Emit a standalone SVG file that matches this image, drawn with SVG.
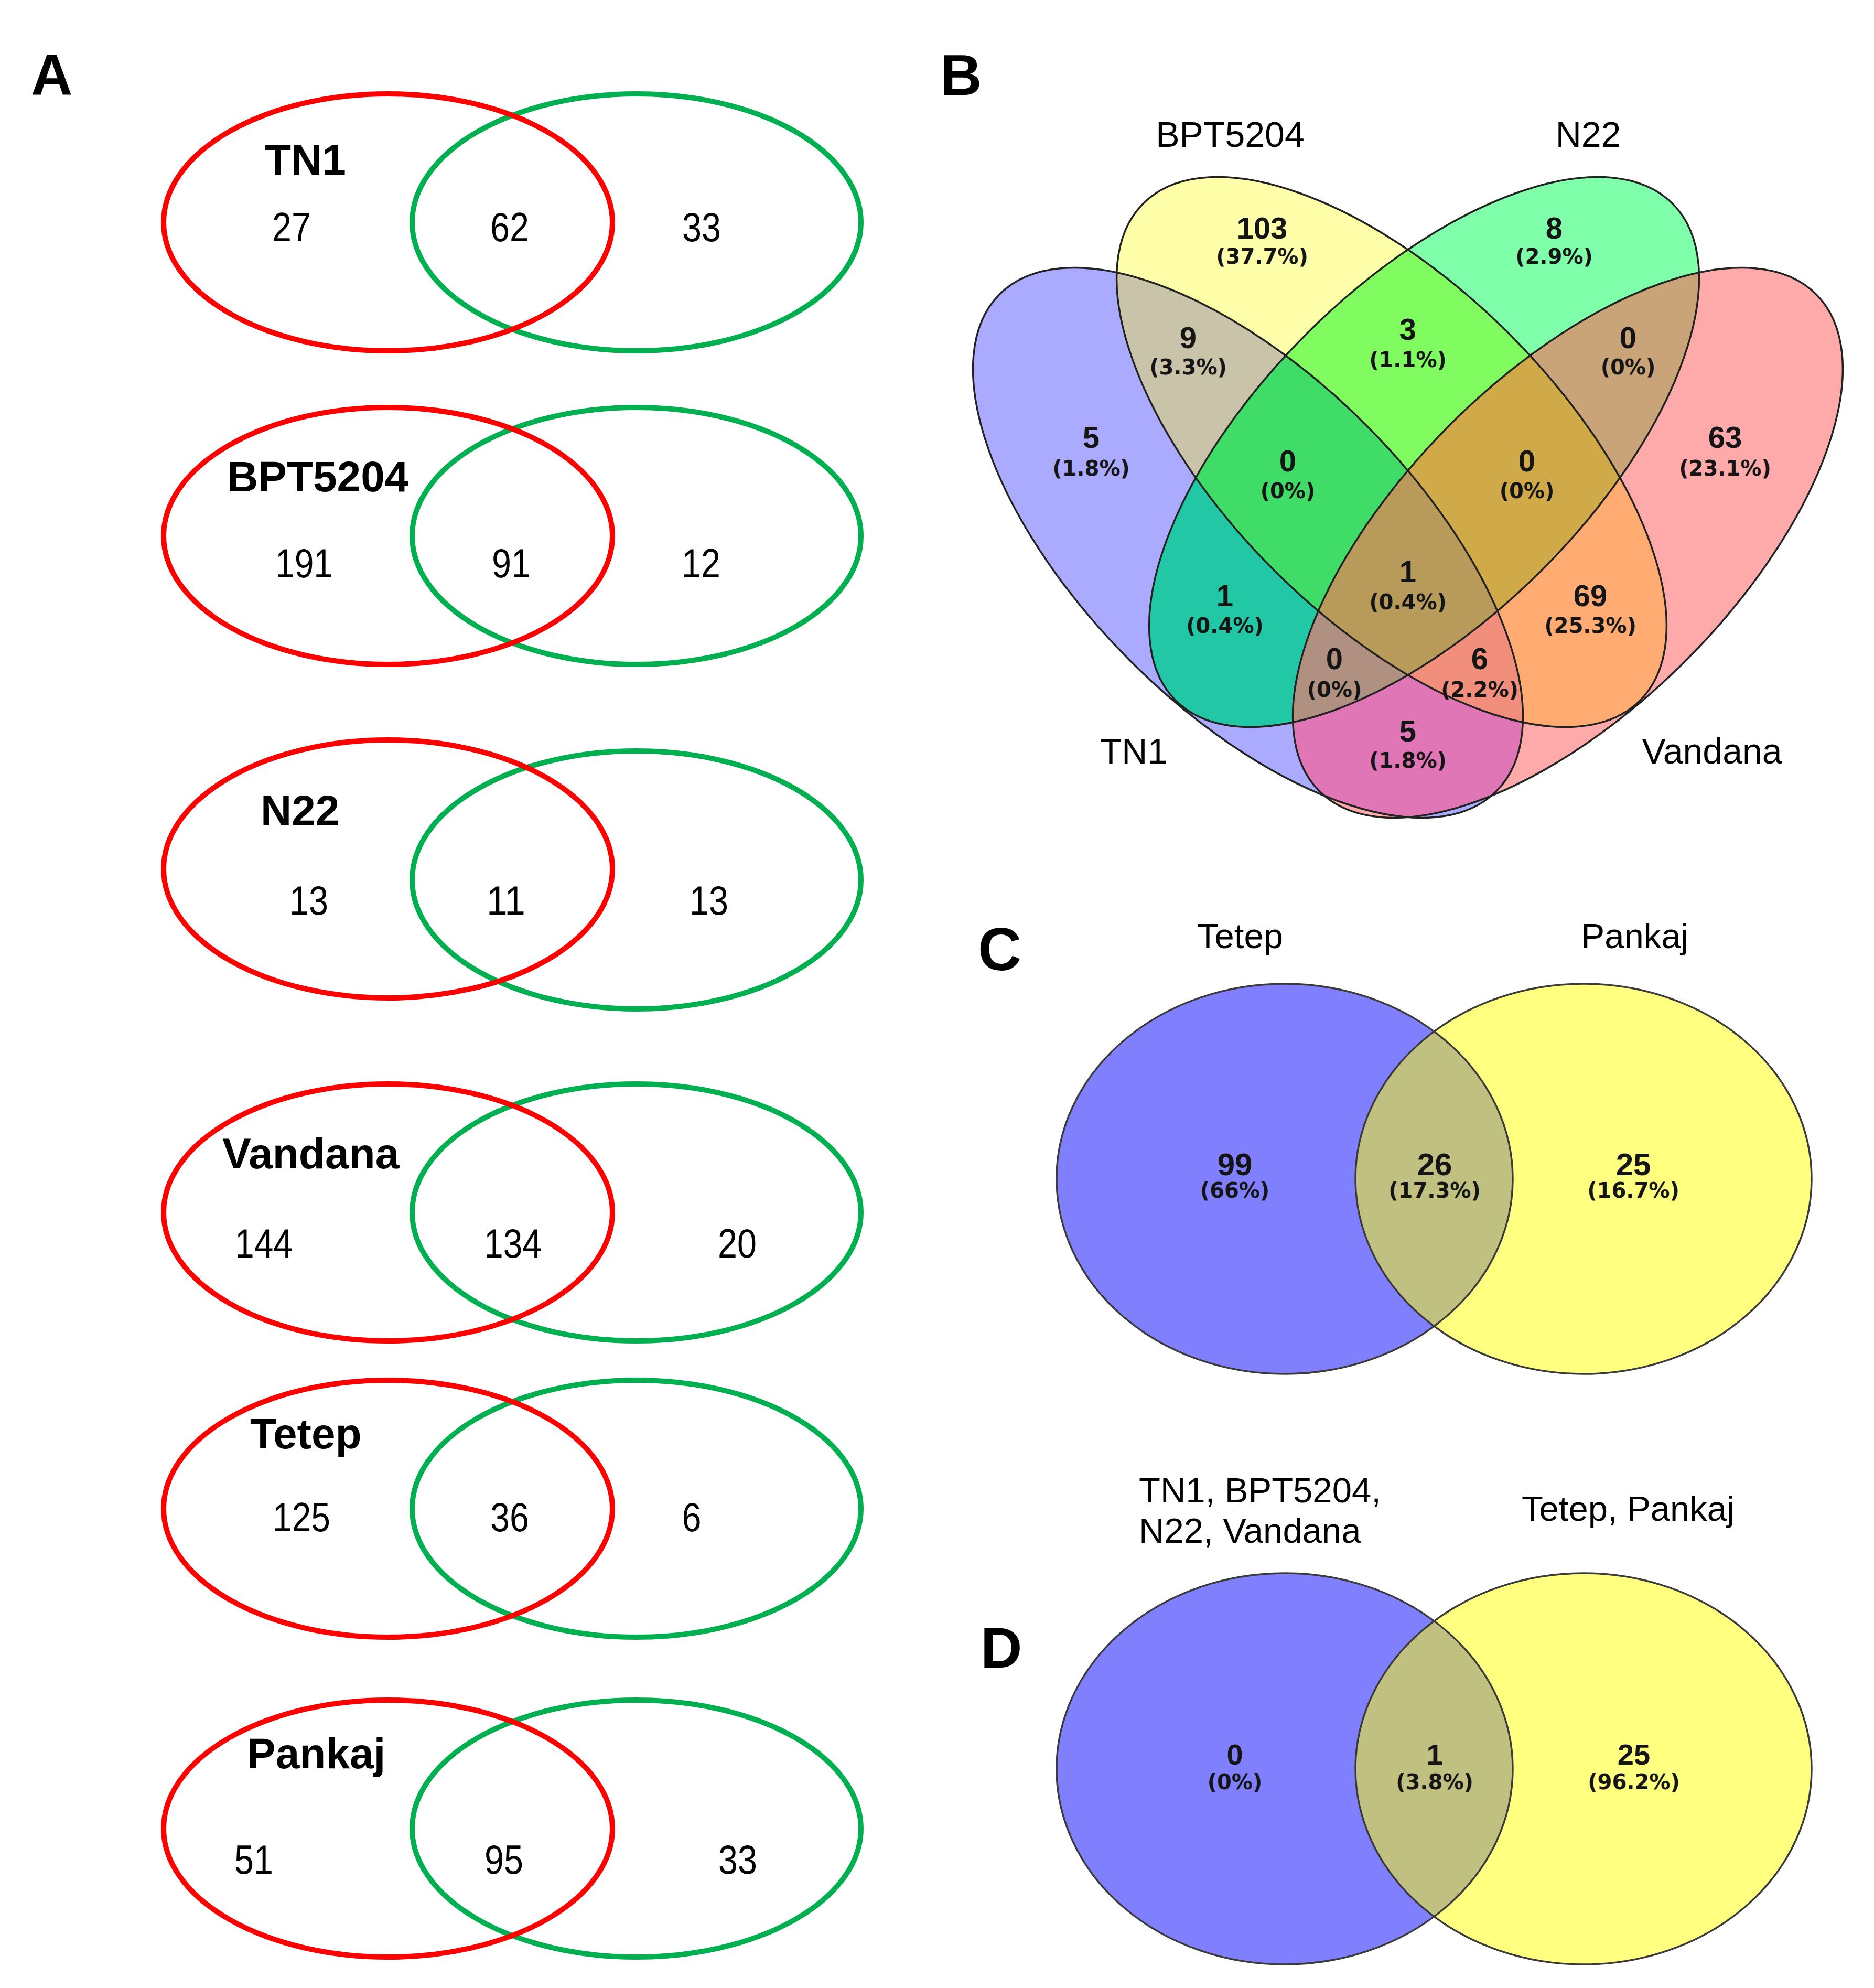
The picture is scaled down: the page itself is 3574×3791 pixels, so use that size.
<svg xmlns="http://www.w3.org/2000/svg" width="3574" height="3791" viewBox="0 0 3574 3791">
<style>
.pl{font-family:"Liberation Sans",Arial,sans-serif;font-weight:bold;font-size:110px;fill:#000}
.lab{font-family:"Liberation Sans",Arial,sans-serif;font-weight:bold;font-size:82px;fill:#000}
.num{font-family:"Liberation Sans",Arial,sans-serif;font-size:78px;fill:#000;text-anchor:middle}
.red{fill:none;stroke:#ff0000;stroke-width:10}
.grn{fill:none;stroke:#00b050;stroke-width:10}
.sl{font-family:"Liberation Sans",Arial,sans-serif;font-size:68px;fill:#000;text-anchor:middle}
.sll{font-family:"Liberation Sans",Arial,sans-serif;font-size:67px;fill:#000}
.bn{font-family:"Liberation Sans",Arial,sans-serif;font-weight:bold;font-size:58px;fill:#151515;text-anchor:middle}
.bp{font-family:"DejaVu Sans",Verdana,sans-serif;font-weight:bold;font-size:40px;fill:#151515;text-anchor:middle}
.cn{font-family:"Liberation Sans",Arial,sans-serif;font-weight:bold;font-size:60px;fill:#151515;text-anchor:middle}
.ol{fill:none;stroke:#222;stroke-width:3.5}
.ol2{fill:none;stroke:#3a3a3a;stroke-width:3.5}
</style>
<defs>
<ellipse id="eA" cx="2380" cy="1035" rx="670" ry="318" transform="rotate(45 2380 1035)"/>
<ellipse id="eB" cx="2654" cy="862" rx="670" ry="318" transform="rotate(45 2654 862)"/>
<ellipse id="eC" cx="2716" cy="862" rx="670" ry="318" transform="rotate(-45 2716 862)"/>
<ellipse id="eD" cx="2990" cy="1035" rx="670" ry="318" transform="rotate(-45 2990 1035)"/>
<clipPath id="cA"><use href="#eA"/></clipPath>
<clipPath id="cB"><use href="#eB"/></clipPath>
<clipPath id="cC"><use href="#eC"/></clipPath>
<ellipse id="eC1" cx="2450" cy="2248" rx="435" ry="372"/>
<ellipse id="eC2" cx="3020" cy="2248" rx="435" ry="372"/>
<clipPath id="cC1"><use href="#eC1"/></clipPath>
<ellipse id="eD1" cx="2450" cy="3373" rx="435" ry="373"/>
<ellipse id="eD2" cx="3020" cy="3373" rx="435" ry="373"/>
<clipPath id="cD1"><use href="#eD1"/></clipPath>
</defs>
<rect width="3574" height="3791" fill="#fff"/>

<!-- Panel letters -->
<text class="pl" x="59" y="180">A</text>
<text class="pl" x="1793" y="181">B</text>
<text class="pl" x="1865" y="1850" style="font-size:115px">C</text>
<text class="pl" x="1870" y="3180">D</text>

<!-- Panel A -->
<g id="a-tn1">
<ellipse class="grn" cx="1214" cy="424" rx="428" ry="245"/>
<ellipse class="red" cx="740" cy="424" rx="428" ry="245"/>
<text class="lab" x="505" y="333">TN1</text>
<text class="num" x="556" y="460" textLength="74" lengthAdjust="spacingAndGlyphs">27</text>
<text class="num" x="972" y="460" textLength="74" lengthAdjust="spacingAndGlyphs">62</text>
<text class="num" x="1338" y="460" textLength="74" lengthAdjust="spacingAndGlyphs">33</text>
</g>
<g id="a-bpt5204">
<ellipse class="grn" cx="1214" cy="1022" rx="428" ry="245"/>
<ellipse class="red" cx="740" cy="1022" rx="428" ry="245"/>
<text class="lab" x="433" y="937">BPT5204</text>
<text class="num" x="580" y="1101" textLength="110" lengthAdjust="spacingAndGlyphs">191</text>
<text class="num" x="975" y="1101" textLength="74" lengthAdjust="spacingAndGlyphs">91</text>
<text class="num" x="1337" y="1101" textLength="74" lengthAdjust="spacingAndGlyphs">12</text>
</g>
<g id="a-n22">
<ellipse class="grn" cx="1214" cy="1678" rx="428" ry="246"/>
<ellipse class="red" cx="740" cy="1657" rx="428" ry="246"/>
<text class="lab" x="497" y="1574">N22</text>
<text class="num" x="589" y="1744" textLength="74" lengthAdjust="spacingAndGlyphs">13</text>
<text class="num" x="965" y="1744" textLength="74" lengthAdjust="spacingAndGlyphs">11</text>
<text class="num" x="1352" y="1744" textLength="74" lengthAdjust="spacingAndGlyphs">13</text>
</g>
<g id="a-vandana">
<ellipse class="grn" cx="1214" cy="2312" rx="428" ry="245"/>
<ellipse class="red" cx="740" cy="2312" rx="428" ry="245"/>
<text class="lab" x="424" y="2228">Vandana</text>
<text class="num" x="503" y="2398" textLength="110" lengthAdjust="spacingAndGlyphs">144</text>
<text class="num" x="978" y="2398" textLength="110" lengthAdjust="spacingAndGlyphs">134</text>
<text class="num" x="1406" y="2398" textLength="74" lengthAdjust="spacingAndGlyphs">20</text>
</g>
<g id="a-tetep">
<ellipse class="grn" cx="1214" cy="2877" rx="428" ry="245"/>
<ellipse class="red" cx="740" cy="2877" rx="428" ry="245"/>
<text class="lab" x="477" y="2762">Tetep</text>
<text class="num" x="575" y="2920" textLength="110" lengthAdjust="spacingAndGlyphs">125</text>
<text class="num" x="972" y="2920" textLength="74" lengthAdjust="spacingAndGlyphs">36</text>
<text class="num" x="1319" y="2920" textLength="37" lengthAdjust="spacingAndGlyphs">6</text>
</g>
<g id="a-pankaj">
<ellipse class="grn" cx="1214" cy="3487" rx="428" ry="245"/>
<ellipse class="red" cx="740" cy="3487" rx="428" ry="245"/>
<text class="lab" x="471" y="3372">Pankaj</text>
<text class="num" x="484" y="3573" textLength="74" lengthAdjust="spacingAndGlyphs">51</text>
<text class="num" x="961" y="3573" textLength="74" lengthAdjust="spacingAndGlyphs">95</text>
<text class="num" x="1407" y="3573" textLength="74" lengthAdjust="spacingAndGlyphs">33</text>
</g>

<!-- Panel B -->
<g id="b-fills">
<use href="#eA" fill="#aaaaff"/>
<use href="#eB" fill="#ffffaa"/>
<use href="#eC" fill="#80ffaa"/>
<use href="#eD" fill="#ffaaaa"/>
<g clip-path="url(#cA)"><use href="#eB" fill="#c9c3a9"/></g>
<g clip-path="url(#cA)"><use href="#eC" fill="#22c8a6"/></g>
<g clip-path="url(#cA)"><use href="#eD" fill="#e076b6"/></g>
<g clip-path="url(#cB)"><use href="#eC" fill="#80fc60"/></g>
<g clip-path="url(#cB)"><use href="#eD" fill="#ffab72"/></g>
<g clip-path="url(#cC)"><use href="#eD" fill="#c8a478"/></g>
<g clip-path="url(#cA)"><g clip-path="url(#cB)"><use href="#eC" fill="#40dc68"/></g></g>
<g clip-path="url(#cA)"><g clip-path="url(#cB)"><use href="#eD" fill="#f28e7c"/></g></g>
<g clip-path="url(#cA)"><g clip-path="url(#cC)"><use href="#eD" fill="#b09080"/></g></g>
<g clip-path="url(#cB)"><g clip-path="url(#cC)"><use href="#eD" fill="#d0aa48"/></g></g>
<g clip-path="url(#cA)"><g clip-path="url(#cB)"><g clip-path="url(#cC)"><use href="#eD" fill="#b89a5a"/></g></g></g>
</g>
<g id="b-outlines">
<use href="#eA" class="ol"/>
<use href="#eB" class="ol"/>
<use href="#eC" class="ol"/>
<use href="#eD" class="ol"/>
</g>
<g id="b-labels">
<text class="sl" x="2346" y="280">BPT5204</text>
<text class="sl" x="3029" y="280">N22</text>
<text class="sl" x="2162" y="1456">TN1</text>
<text class="sl" x="3265" y="1456">Vandana</text>
</g>
<g id="b-counts">
<text class="bn" x="2407" y="455">103</text><text class="bp" x="2407" y="503">(37.7%)</text>
<text class="bn" x="2964" y="455">8</text><text class="bp" x="2964" y="503">(2.9%)</text>
<text class="bn" x="2266" y="664">9</text><text class="bp" x="2266" y="714">(3.3%)</text>
<text class="bn" x="2685" y="648">3</text><text class="bp" x="2685" y="700">(1.1%)</text>
<text class="bn" x="3105" y="664">0</text><text class="bp" x="3105" y="714">(0%)</text>
<text class="bn" x="2081" y="854">5</text><text class="bp" x="2081" y="907">(1.8%)</text>
<text class="bn" x="3290" y="854">63</text><text class="bp" x="3290" y="907">(23.1%)</text>
<text class="bn" x="2456" y="899">0</text><text class="bp" x="2456" y="950">(0%)</text>
<text class="bn" x="2912" y="899">0</text><text class="bp" x="2912" y="950">(0%)</text>
<text class="bn" x="2336" y="1156">1</text><text class="bp" x="2336" y="1207">(0.4%)</text>
<text class="bn" x="2685" y="1110">1</text><text class="bp" x="2685" y="1162">(0.4%)</text>
<text class="bn" x="3033" y="1156">69</text><text class="bp" x="3033" y="1207">(25.3%)</text>
<text class="bn" x="2545" y="1276">0</text><text class="bp" x="2545" y="1329">(0%)</text>
<text class="bn" x="2822" y="1276">6</text><text class="bp" x="2822" y="1329">(2.2%)</text>
<text class="bn" x="2685" y="1414">5</text><text class="bp" x="2685" y="1464">(1.8%)</text>
</g>

<!-- Panel C -->
<g id="c-tetep">
<use href="#eC1" fill="#8080ff"/>
</g>
<g id="c-pankaj">
<use href="#eC2" fill="#ffff80"/>
</g>
<g id="c-overlap" clip-path="url(#cC1)"><use href="#eC2" fill="#c0c080"/></g>
<g id="c-outlines">
<use href="#eC1" class="ol2"/>
<use href="#eC2" class="ol2"/>
</g>
<g id="c-text">
<text class="sll" x="2365" y="1808" text-anchor="middle">Tetep</text>
<text class="sll" x="3118" y="1808" text-anchor="middle">Pankaj</text>
<text class="cn" x="2355" y="2241">99</text><text class="bp" x="2355" y="2284">(66%)</text>
<text class="cn" x="2736" y="2241">26</text><text class="bp" x="2736" y="2284">(17.3%)</text>
<text class="cn" x="3115" y="2241">25</text><text class="bp" x="3115" y="2284">(16.7%)</text>
</g>

<!-- Panel D -->
<g id="d-group1">
<use href="#eD1" fill="#8080ff"/>
</g>
<g id="d-group2">
<use href="#eD2" fill="#ffff80"/>
</g>
<g id="d-overlap" clip-path="url(#cD1)"><use href="#eD2" fill="#c0c080"/></g>
<g id="d-outlines">
<use href="#eD1" class="ol2"/>
<use href="#eD2" class="ol2"/>
</g>
<g id="d-text">
<text class="sll" x="2172" y="2865">TN1, BPT5204,</text>
<text class="sll" x="2172" y="2942">N22, Vandana</text>
<text class="sll" x="3105" y="2900" text-anchor="middle">Tetep, Pankaj</text>
<text class="cn" x="2355" y="3365" style="font-size:56px">0</text><text class="bp" x="2355" y="3412">(0%)</text>
<text class="cn" x="2736" y="3365" style="font-size:56px">1</text><text class="bp" x="2736" y="3412">(3.8%)</text>
<text class="cn" x="3116" y="3365" style="font-size:56px">25</text><text class="bp" x="3116" y="3412">(96.2%)</text>
</g>
</svg>
